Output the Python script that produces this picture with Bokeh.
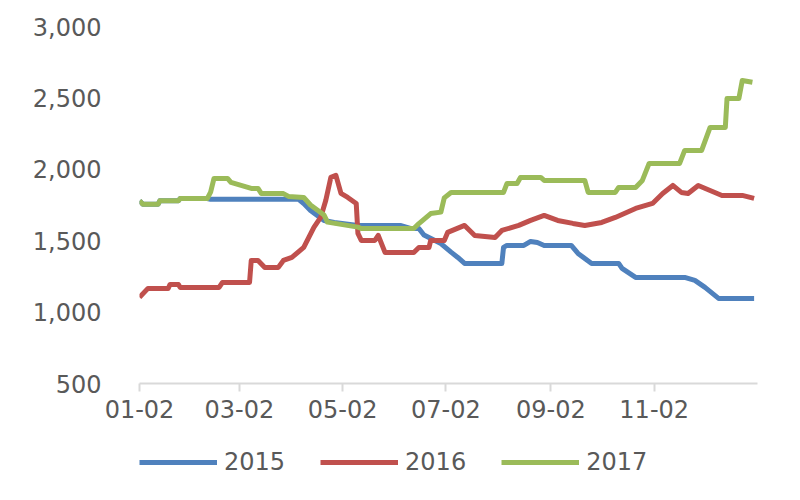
import pandas as pd
from bokeh.plotting import figure
from bokeh.layouts import column
from bokeh.models import (Legend, LegendItem, FixedTicker, DatetimeTickFormatter,
                          NumeralTickFormatter, Range1d)
from bokeh.embed import file_html
from bokeh.resources import INLINE

YEAR = "2017"

# 2015 series
dates_2015 = ["01-02", "01-04", "01-13", "01-14", "01-25", "01-26", "02-11", "02-13",
              "04-06", "04-09", "04-13", "04-21", "04-27",
              "05-11", "06-05", "06-11", "06-16", "06-19", "06-29", "07-05", "07-09",
              "07-13", "08-04", "08-05", "08-07", "08-17", "08-21", "08-25", "08-29",
              "09-14", "09-18", "09-26", "10-12", "10-14", "10-22", "11-20", "11-26",
              "12-02", "12-10", "12-31"]
values_2015 = [1780, 1755, 1755, 1780, 1780, 1795, 1795, 1790,
               1790, 1760, 1712, 1642, 1628,
               1607, 1607, 1586, 1586, 1540, 1480, 1420, 1383,
               1341, 1341, 1453, 1467, 1467, 1495, 1488, 1467,
               1467, 1411, 1341, 1341, 1306, 1243, 1243, 1222,
               1173, 1096, 1096]

# 2016 series
dates_2016 = ["01-02", "01-07", "01-19", "01-20", "01-25", "01-26", "02-18", "02-20",
              "03-08", "03-09", "03-13", "03-17", "03-25", "03-28", "04-02", "04-09",
              "04-15", "04-19", "04-22", "04-25", "04-28", "05-01", "05-05", "05-10",
              "05-11", "05-13", "05-21", "05-23", "05-27", "06-13", "06-16", "06-22",
              "06-23", "07-01", "07-03", "07-13", "07-19", "07-31", "08-04", "08-14",
              "08-21", "08-29", "09-06", "09-15", "09-22", "10-02", "10-10", "10-22",
              "11-01", "11-07", "11-13", "11-18", "11-22", "11-28", "12-05", "12-12",
              "12-24", "12-31"]
values_2016 = [1103, 1166, 1166, 1194, 1194, 1173, 1173, 1208,
               1208, 1362, 1362, 1313, 1313, 1362, 1383, 1453,
               1593, 1663, 1782, 1943, 1957, 1831, 1803, 1761,
               1551, 1502, 1502, 1537, 1418, 1418, 1453, 1453,
               1502, 1502, 1558, 1607, 1537, 1523, 1572, 1607,
               1642, 1677, 1642, 1621, 1607, 1628, 1663, 1726,
               1761, 1831, 1887, 1838, 1831, 1887, 1852, 1817,
               1817, 1796]

# 2017 series
dates_2017 = ["01-02", "01-04", "01-13", "01-14", "01-25", "01-26", "02-11", "02-13",
              "02-15", "02-23", "02-25", "03-03", "03-09", "03-13", "03-15", "03-28",
              "03-31", "04-09", "04-13", "04-21", "04-23", "05-11", "05-13", "06-13",
              "06-16", "06-23", "06-29", "07-01", "07-05", "08-05", "08-07", "08-13",
              "08-15", "08-27", "08-29", "09-22", "09-24", "10-10", "10-12", "10-22",
              "10-26", "10-30", "11-17", "11-20", "11-30", "12-05", "12-14", "12-15",
              "12-22", "12-24", "12-30"]
values_2017 = [1780, 1755, 1755, 1780, 1780, 1795, 1795, 1840,
               1936, 1936, 1908, 1887, 1866, 1866, 1830, 1830,
               1810, 1803, 1750, 1680, 1630, 1595, 1585, 1585,
               1620, 1690, 1700, 1800, 1838, 1838, 1900, 1900,
               1943, 1943, 1922, 1922, 1838, 1838, 1873, 1873,
               1922, 2041, 2041, 2132, 2132, 2293, 2293, 2496,
               2496, 2622, 2610]

series_names = ["2015", "2016", "2017"]
tick_labels = ["01-02", "03-02", "05-02", "07-02", "09-02", "11-02"]
y_ticks = [500, 1000, 1500, 2000, 2500, 3000]
colors = ["#4F81BD", "#C0504D", "#9BBB59"]
FONT = "DejaVu Sans"
TEXT_COLOR = "#595959"


def to_dt(lst):
    return pd.to_datetime([YEAR + "-" + s for s in lst])


p = figure(width=784, height=440, x_axis_type="datetime", output_backend="svg",
           toolbar_location=None,
           x_range=Range1d(pd.Timestamp(YEAR + "-01-02"), pd.Timestamp("2018-01-02")),
           y_range=Range1d(500, 3000))
p.min_border_left = 139
p.min_border_right = 27
p.min_border_top = 26
p.min_border_bottom = 57
p.outline_line_color = None
p.xgrid.visible = False
p.ygrid.visible = False

for d, v, c in zip([dates_2015, dates_2016, dates_2017],
                   [values_2015, values_2016, values_2017], colors):
    p.line(to_dt(d), v, line_color=c, line_width=5, line_join="round")

tick_ms = [pd.Timestamp(YEAR + "-" + t).value / 1e6 for t in tick_labels]
p.xaxis.ticker = FixedTicker(ticks=tick_ms)
fmt = "%m-%d"
p.xaxis.formatter = DatetimeTickFormatter(milliseconds=fmt, seconds=fmt, minsec=fmt,
                                          minutes=fmt, hourmin=fmt, hours=fmt, days=fmt,
                                          months=fmt, years=fmt)
p.xaxis.axis_line_color = "#D9D9D9"
p.xaxis.axis_line_width = 2
p.xaxis.major_tick_line_color = "#D9D9D9"
p.xaxis.major_tick_line_width = 2
p.xaxis.major_tick_out = 8
p.xaxis.major_tick_in = 0
p.xaxis.minor_tick_line_color = None
p.xaxis.major_label_standoff = 8

p.yaxis.ticker = FixedTicker(ticks=y_ticks)
p.yaxis.formatter = NumeralTickFormatter(format="0,0")
p.yaxis.axis_line_color = None
p.yaxis.major_tick_line_color = None
p.yaxis.minor_tick_line_color = None
p.yaxis.major_label_standoff = 32

for ax in (p.xaxis, p.yaxis):
    ax.major_label_text_font = FONT
    ax.major_label_text_font_size = "24px"
    ax.major_label_text_color = TEXT_COLOR

# legend strip below the chart (its frame is aligned with the chart's frame)
pl = figure(width=784, height=44, output_backend="svg", toolbar_location=None,
            x_range=Range1d(0, 1), y_range=Range1d(0, 1),
            x_axis_location=None, y_axis_location=None)
pl.min_border_left = 139
pl.min_border_right = 27
pl.min_border_top = 0
pl.min_border_bottom = 0
pl.outline_line_color = None
pl.xgrid.visible = False
pl.ygrid.visible = False
# legend swatches only: lines kept outside the visible range
leg_renderers = [pl.line([5, 6], [5, 6], line_color=c, line_width=5) for c in colors]

legend = Legend(items=[LegendItem(label=n, renderers=[r])
                       for n, r in zip(series_names, leg_renderers)],
                orientation="horizontal", location=(0, 7))
legend.glyph_width = 78
legend.glyph_height = 30
legend.label_height = 30
legend.label_standoff = 7
legend.spacing = 35
legend.padding = 0
legend.margin = 0
legend.label_text_font = FONT
legend.label_text_font_size = "24px"
legend.label_text_color = TEXT_COLOR
legend.background_fill_alpha = 0
legend.border_line_color = None
pl.add_layout(legend, "center")

layout = column(p, pl, spacing=0)
open("out.html", "w").write(file_html(layout, INLINE))
